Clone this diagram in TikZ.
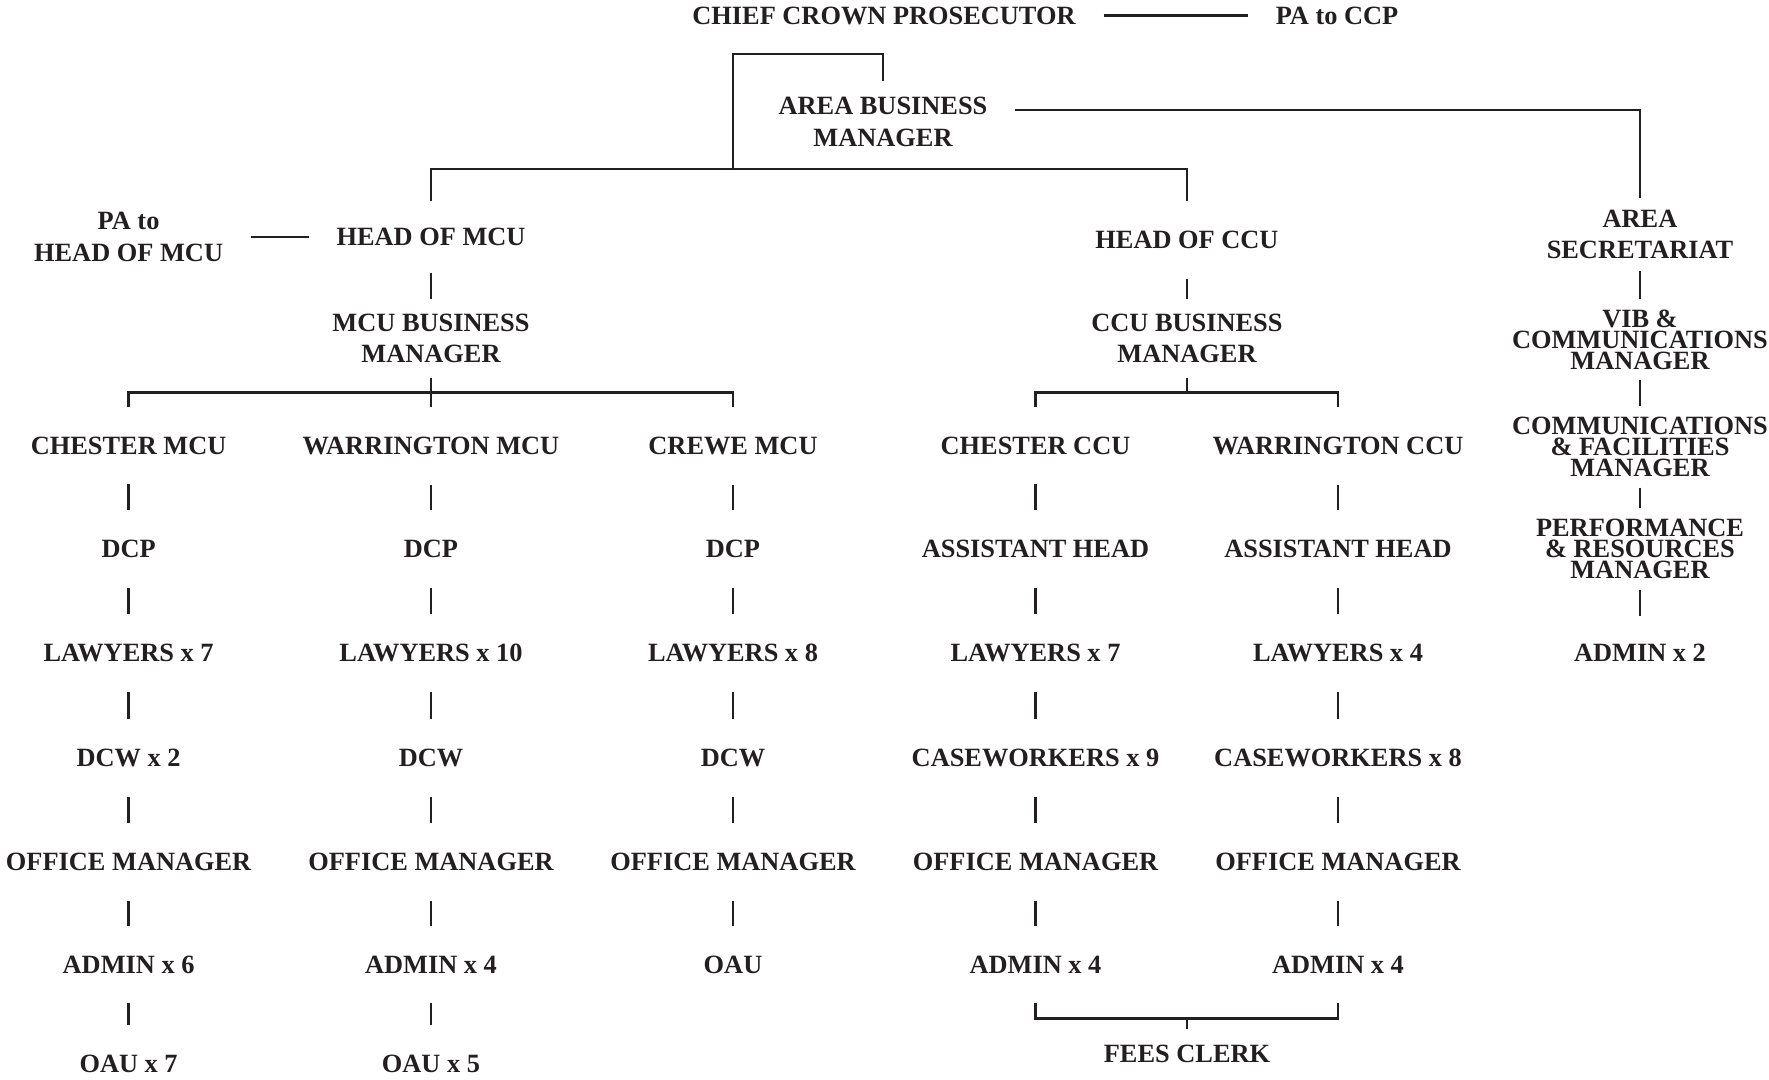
\documentclass[tikz,border=0pt]{standalone}
\usepackage{fontspec}
\setmainfont{Liberation Serif}
\usepackage{tikz}
\definecolor{ink}{RGB}{35,31,32}
\newcommand\stackfont{\fontsize{7.5}{6}\selectfont\bfseries\lineskiplimit=-3pt\relax}
\tikzset{
  rolebox/.style={font=\fontsize{7.5}{9}\selectfont\bfseries, align=center,
    inner sep=0pt, outer xsep=0.28cm, outer ysep=0.3cm},
  rolestack/.style={rolebox, font=\stackfont, outer ysep=0.11cm}
}

\begin{document}
\begin{tikzpicture}[color=ink, line width=0.65pt]
    \useasboundingbox (0cm,0cm) rectangle (17.69cm,-10.8cm);
    % top of the area
    \node[rolebox] (ccp) at ( 8.84cm,-0.155cm) {CHIEF CROWN PROSECUTOR};
    \node[rolebox] (pa)  at (13.37cm,-0.155cm) {PA to CCP};
    \node[rolebox, outer ysep=0.16cm] (abm) at (8.83cm,-1.22cm) {AREA BUSINESS\\MANAGER};
    \node[rolebox] (pamcu) at ( 1.286cm,-2.37cm) {PA to\\HEAD OF MCU};
    \node[rolebox, outer ysep=0.27cm] (hmcu) at ( 4.31cm,-2.37cm) {HEAD OF MCU};
    \node[rolebox] (hccu)  at (11.87cm,-2.40cm) {HEAD OF CCU};
    \node[rolebox, outer ysep=0.15cm] (mcubm) at ( 4.31cm,-3.385cm) {MCU BUSINESS\\MANAGER};
    \node[rolebox, outer ysep=0.15cm] (ccubm) at (11.87cm,-3.385cm) {CCU BUSINESS\\MANAGER};
    % area secretariat
    \node[rolebox, outer ysep=0.12cm] (sec) at (16.40cm,-2.346cm) {AREA\\SECRETARIAT};
    \node[rolestack] (vib) at (16.40cm,-3.395cm) {VIB \&\\COMMUNICATIONS\\MANAGER};
    \node[rolestack] (cfm) at (16.40cm,-4.467cm) {COMMUNICATIONS\\\& FACILITIES\\MANAGER};
    \node[rolestack] (prm) at (16.40cm,-5.49cm) {PERFORMANCE\\\& RESOURCES\\MANAGER};
    \node[rolebox, outer ysep=0.28cm] (sadm) at (16.40cm,-6.53cm) {ADMIN x 2};
    % chester mcu
    \node[rolebox] (chm1) at (1.286cm,-4.456cm)  {CHESTER MCU};
    \node[rolebox] (chm2) at (1.286cm,-5.493cm)  {DCP};
    \node[rolebox] (chm3) at (1.286cm,-6.531cm)  {LAWYERS x 7};
    \node[rolebox] (chm4) at (1.286cm,-7.58cm)   {DCW x 2};
    \node[rolebox] (chm5) at (1.286cm,-8.618cm)  {OFFICE MANAGER};
    \node[rolebox] (chm6) at (1.286cm,-9.644cm)  {ADMIN x 6};
    \node[rolebox] (chm7) at (1.286cm,-10.637cm) {OAU x 7};
    % warrington mcu
    \node[rolebox] (wam1) at (4.31cm,-4.456cm)  {WARRINGTON MCU};
    \node[rolebox] (wam2) at (4.31cm,-5.493cm)  {DCP};
    \node[rolebox] (wam3) at (4.31cm,-6.531cm)  {LAWYERS x 10};
    \node[rolebox] (wam4) at (4.31cm,-7.58cm)   {DCW};
    \node[rolebox] (wam5) at (4.31cm,-8.618cm)  {OFFICE MANAGER};
    \node[rolebox] (wam6) at (4.31cm,-9.644cm)  {ADMIN x 4};
    \node[rolebox] (wam7) at (4.31cm,-10.637cm) {OAU x 5};
    % crewe mcu
    \node[rolebox] (crm1) at (7.33cm,-4.456cm) {CREWE MCU};
    \node[rolebox] (crm2) at (7.33cm,-5.493cm) {DCP};
    \node[rolebox] (crm3) at (7.33cm,-6.531cm) {LAWYERS x 8};
    \node[rolebox] (crm4) at (7.33cm,-7.58cm)  {DCW};
    \node[rolebox] (crm5) at (7.33cm,-8.618cm) {OFFICE MANAGER};
    \node[rolebox] (crm6) at (7.33cm,-9.644cm) {OAU};
    % chester ccu
    \node[rolebox] (chc1) at (10.355cm,-4.456cm) {CHESTER CCU};
    \node[rolebox] (chc2) at (10.355cm,-5.493cm) {ASSISTANT HEAD};
    \node[rolebox] (chc3) at (10.355cm,-6.531cm) {LAWYERS x 7};
    \node[rolebox] (chc4) at (10.355cm,-7.58cm)  {CASEWORKERS x 9};
    \node[rolebox] (chc5) at (10.355cm,-8.618cm) {OFFICE MANAGER};
    \node[rolebox] (chc6) at (10.355cm,-9.644cm) {ADMIN x 4};
    % warrington ccu
    \node[rolebox] (wac1) at (13.38cm,-4.456cm) {WARRINGTON CCU};
    \node[rolebox] (wac2) at (13.38cm,-5.493cm) {ASSISTANT HEAD};
    \node[rolebox] (wac3) at (13.38cm,-6.531cm) {LAWYERS x 4};
    \node[rolebox] (wac4) at (13.38cm,-7.58cm)  {CASEWORKERS x 8};
    \node[rolebox] (wac5) at (13.38cm,-8.618cm) {OFFICE MANAGER};
    \node[rolebox] (wac6) at (13.38cm,-9.644cm) {ADMIN x 4};
    \node[rolebox, outer ysep=0.16cm] (fees) at (11.87cm,-10.536cm) {FEES CLERK};
    % joints of the lines
    \coordinate (ccpjoin) at ( 7.33cm,-0.54cm);
    \coordinate (unitbus) at ( 7.33cm,-1.69cm);
    \coordinate (mcubus)  at ( 4.31cm,-3.925cm);
    \coordinate (ccubus)  at (11.87cm,-3.925cm);
    \coordinate (feesbus) at (11.87cm,-10.186cm);
    \draw (ccp) -- (pa);
    \draw (abm.north) |- (ccpjoin) -- (unitbus);
    \draw (hmcu.north) |- (unitbus) -| (hccu.north);
    \draw ([yshift=0.362cm]abm.base east) -| (sec.north);
    \draw (pamcu) -- (hmcu);
    \draw (hmcu) -- (mcubm) -- (wam1);
    \draw (hccu) -- (ccubm);
    \draw (ccubm.south) -- (ccubus);
    \draw (chm1.north) |- (mcubus) -| (crm1.north);
    \draw (chc1.north) |- (ccubus) -| (wac1.north);
    \draw (sec) -- (vib) -- (cfm) -- (prm) -- (sadm);
    \draw (chm1) -- (chm2) -- (chm3) -- (chm4) -- (chm5) -- (chm6) -- (chm7);
    \draw (wam1) -- (wam2) -- (wam3) -- (wam4) -- (wam5) -- (wam6) -- (wam7);
    \draw (crm1) -- (crm2) -- (crm3) -- (crm4) -- (crm5) -- (crm6);
    \draw (chc1) -- (chc2) -- (chc3) -- (chc4) -- (chc5) -- (chc6);
    \draw (wac1) -- (wac2) -- (wac3) -- (wac4) -- (wac5) -- (wac6);
    \draw (chc6.south) |- (feesbus) -| (wac6.south);
    \draw (feesbus) -- (fees);
\end{tikzpicture}
\end{document}
